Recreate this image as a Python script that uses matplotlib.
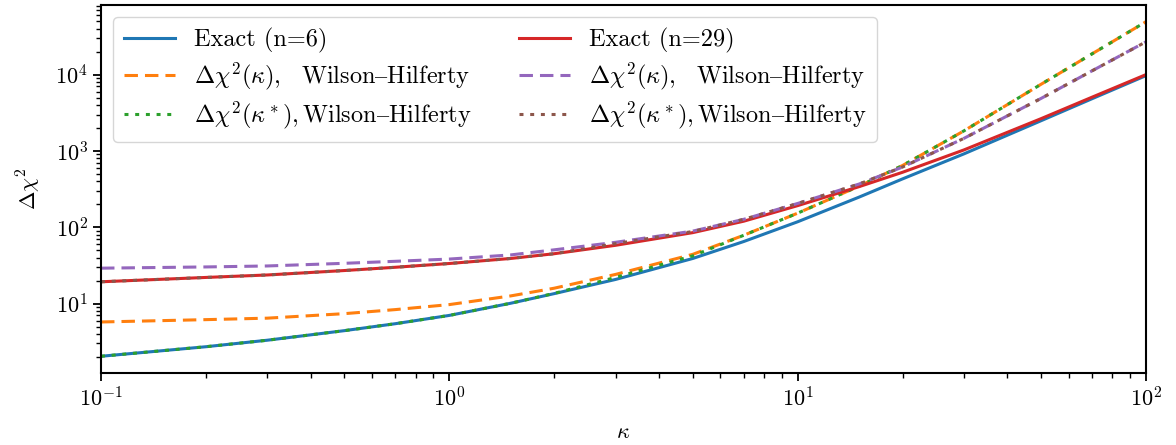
import numpy as np
import matplotlib
matplotlib.use("Agg")
import matplotlib.pyplot as plt

plt.rcParams['font.family'] = ['cmr10', 'DejaVu Serif']
plt.rcParams['mathtext.fontset'] = 'cm'
plt.rcParams['axes.formatter.use_mathtext'] = True
plt.rcParams['font.size'] = 16

kappa = [0.1, 0.2, 0.3, 0.5, 0.7, 1, 1.5, 2, 3, 5, 7, 10, 15, 20, 30, 50, 70, 100]

# n = 6
exact_6 = [2.04, 2.72, 3.31, 4.42, 5.45, 7.0, 10.1, 13.5, 20.7, 39.0, 65.0, 118,
           248, 430, 914, 2490, 4830, 9700]
wh_kappa_6 = [5.74, 6.16, 6.44, 7.38, 8.34, 9.70, 12.6, 15.9, 24.1, 44.2, 78.5, 153,
              345, 644, 1830, 7480, 18700, 49300]
wh_kstar_6 = [2.04, 2.72, 3.31, 4.42, 5.45, 7.0, 10.1, 13.6, 22.0, 42.2, 78.5, 153,
              345, 644, 1830, 7480, 18700, 49300]

# n = 29
exact_29 = [19.3, 22.0, 23.7, 27.1, 29.9, 33.5, 39.0, 45.0, 58.0, 85.0, 120, 192,
            340, 525, 1030, 2650, 5060, 10000]
wh_kappa_29 = [29.1, 30.2, 31.1, 33.7, 35.8, 38.3, 43.4, 50.6, 63.5, 89.0, 127, 205,
               368, 615, 1460, 4880, 11200, 26900]
wh_kstar_29 = [19.3, 22.0, 23.7, 27.1, 29.9, 33.5, 39.0, 45.0, 61.0, 88.0, 127, 205,
               368, 615, 1460, 4880, 11200, 26900]

fig = plt.figure(figsize=(11.76, 4.45), dpi=100)
ax = fig.add_axes([0.0859, 0.1618, 0.8886, 0.8270])

lw = 2.2
dash = (0, (4.4, 2.3))
dot = (0, (1.3, 2.2))
wh = r'Wilson$–$Hilferty'

ax.plot(kappa, exact_6, color='C0', lw=lw, label='Exact (n=6)')
ax.plot(kappa, wh_kappa_6, color='C1', lw=lw, ls=dash,
        label=r'$\Delta\chi^2(\kappa),$  ' + wh)
ax.plot(kappa, wh_kstar_6, color='C2', lw=lw, ls=dot,
        label=r'$\Delta\chi^2(\kappa^*),$' + wh)
ax.plot(kappa, exact_29, color='C3', lw=lw, label='Exact (n=29)')
ax.plot(kappa, wh_kappa_29, color='C4', lw=lw, ls=dash,
        label=r'$\Delta\chi^2(\kappa),$  ' + wh)
ax.plot(kappa, wh_kstar_29, color='C5', lw=lw, ls=dot,
        label=r'$\Delta\chi^2(\kappa^*),$' + wh)

ax.set_xscale('log')
ax.set_yscale('log')
ax.set_xlim(0.1, 100)
ax.set_xlabel(r'$\kappa$', labelpad=9)
ax.set_ylabel(r'$\Delta\chi^2$', labelpad=9)

for s in ax.spines.values():
    s.set_linewidth(1.5)
ax.tick_params(which='major', length=6, width=1.3)
ax.tick_params(which='minor', length=3.5, width=1.0)

ax.legend(ncol=2, loc='upper left', fancybox=True, framealpha=0.8,
          fontsize=17.5, labelspacing=0.3, handlelength=2.1,
          handletextpad=0.78, columnspacing=1.93, borderpad=0.45)

fig.savefig('out.png', dpi=100)
